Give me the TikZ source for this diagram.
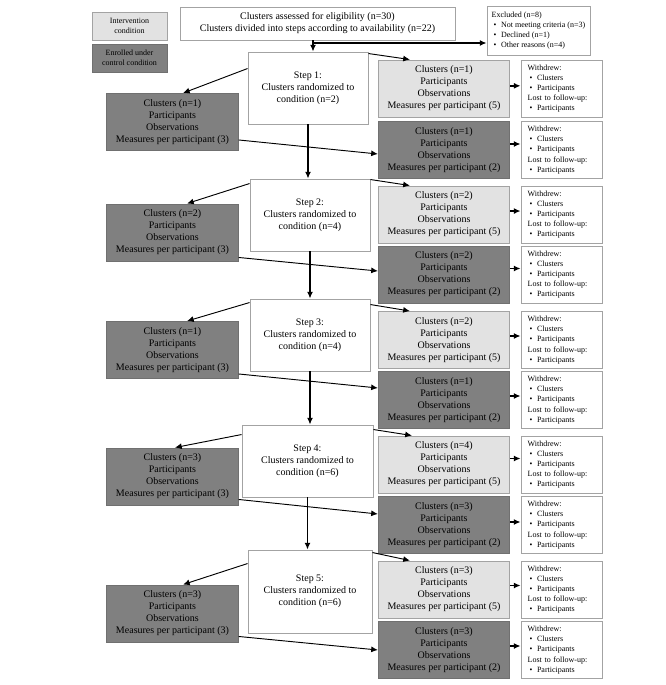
\documentclass[tikz,border=0pt]{standalone}
\usepackage{fontspec}
\setmainfont{Liberation Serif}
\usetikzlibrary{arrows.meta}

\definecolor{intgray}{HTML}{E2E2E2}
\definecolor{ctlgray}{HTML}{808080}
\definecolor{edgegray}{HTML}{A3A3A3}
\definecolor{ctledge}{HTML}{707070}

\newcommand{\bul}[1]{\hspace*{1.5pt}\makebox[5.5pt][l]{\textbullet}#1}
\newcommand{\armtext}[2]{Clusters (n=#1)\\Participants\\Observations\\Measures per participant (#2)}
\newcommand{\steptext}[2]{Step #1:\\Clusters randomized to\\condition (n=#2)}
\newcommand{\withdrewtext}{Withdrew:\\\bul{Clusters}\\\bul{Participants}\\Lost to follow-up:\\\bul{Participants}}

\tikzset{
	box/.style={draw=edgegray, line width=0.7pt, fill=white, align=center, inner sep=0pt,
		font=\fontsize{7.5}{9}\selectfont},
	stepbox/.style={box, minimum width=90pt, minimum height=54pt},
	intbox/.style={box, fill=intgray, minimum width=98.5pt, minimum height=42.75pt},
	ctlbox/.style={box, fill=ctlgray, draw=ctledge, minimum width=98.5pt, minimum height=42.75pt},
	notebox/.style={box, align=left, inner xsep=5pt, font=\fontsize{6}{7.6}\selectfont},
	wdbox/.style={notebox, text width=50.75pt, minimum height=42.75pt},
	legbox/.style={box, minimum width=56.25pt, minimum height=21pt, font=\fontsize{6}{7.4}\selectfont},
	flow/.style={-{Latex[length=5pt,width=4.5pt]}, line width=1.2pt},
	branch/.style={-{Latex[length=5pt,width=4.5pt]}, line width=0.7pt},
}

\begin{document}
\begin{tikzpicture}[x=0.75pt,y=-0.75pt]
	\useasboundingbox (0,0) rectangle (666,685);
	% legend
	\node[legbox, fill=intgray] (legint) at (129.5,26) {Intervention\\condition};
	\node[legbox, fill=ctlgray, draw=ctledge] (legctl) at (129.5,58) {Enrolled under\\control condition};
	% enrolment
	\node[box, minimum width=206.25pt, minimum height=24.75pt] (assess) at (317.5,23.5)
		{Clusters assessed for eligibility (n=30)\\Clusters divided into steps according to availability (n=22)};
	\node[notebox, inner xsep=3pt, minimum width=77.25pt, minimum height=36.75pt] (excl) at (538.5,30.5)
		{Excluded (n=8)\\\bul{Not meeting criteria (n=3)}\\\bul{Declined (n=1)}\\\bul{Other reasons (n=4)}};
	% steps
	\node[stepbox] (s1) at (308,88) {\steptext{1}{2}};
	\node[stepbox] (s2) at (310,215) {\steptext{2}{4}};
	\node[stepbox] (s3) at (310,335) {\steptext{3}{4}};
	\node[stepbox, minimum width=98.25pt] (s4) at (307.5,461) {\steptext{4}{6}};
	\node[stepbox, minimum width=93pt, minimum height=62.25pt] (s5) at (310,591.5) {\steptext{5}{6}};
	% control arm before crossing over
	\node[ctlbox] (w1) at (172.5,122) {\armtext{1}{3}};
	\node[ctlbox] (w2) at (172.5,232.5) {\armtext{2}{3}};
	\node[ctlbox] (w3) at (172.5,350) {\armtext{1}{3}};
	\node[ctlbox] (w4) at (172.5,476.5) {\armtext{3}{3}};
	\node[ctlbox] (w5) at (172.5,613.5) {\armtext{3}{3}};
	% right column
	\node[intbox] (ri1) at (444,88.5) {\armtext{1}{5}};
	\node[ctlbox] (rc1) at (444,150) {\armtext{1}{2}};
	\node[intbox] (ri2) at (444,214.5) {\armtext{2}{5}};
	\node[ctlbox] (rc2) at (444,274.5) {\armtext{2}{2}};
	\node[intbox] (ri3) at (444,340) {\armtext{2}{5}};
	\node[ctlbox] (rc3) at (444,400) {\armtext{1}{2}};
	\node[intbox] (ri4) at (444,464.5) {\armtext{4}{5}};
	\node[ctlbox] (rc4) at (444,525) {\armtext{3}{2}};
	\node[intbox] (ri5) at (444,589.5) {\armtext{3}{5}};
	\node[ctlbox] (rc5) at (444,650) {\armtext{3}{2}};
	% withdrawals
	\node[wdbox] (wi1) at (561.5,88.5) {\withdrewtext};
	\node[wdbox] (wc1) at (561.5,150) {\withdrewtext};
	\node[wdbox] (wi2) at (561.5,214.5) {\withdrewtext};
	\node[wdbox] (wc2) at (561.5,274.5) {\withdrewtext};
	\node[wdbox] (wi3) at (561.5,340) {\withdrewtext};
	\node[wdbox] (wc3) at (561.5,400) {\withdrewtext};
	\node[wdbox] (wi4) at (561.5,464.5) {\withdrewtext};
	\node[wdbox] (wc4) at (561.5,525) {\withdrewtext};
	\node[wdbox] (wi5) at (561.5,589.5) {\withdrewtext};
	\node[wdbox] (wc5) at (561.5,650) {\withdrewtext};

	% main flow
	\coordinate (split) at (313,43);
	\draw[flow] (split |- assess.south) -- (split |- s1.north);
	\draw[flow, line width=1pt] (split) -- (split -| excl.west);
	\draw[flow] (s1.south) -- (s1.south |- s2.north);
	\draw[flow] (s2.south) -- (s2.south |- s3.north);
	\draw[flow] (s3.south) -- (s3.south |- s4.north);
	\draw[flow] (s4.south) -- (s4.south |- s5.north);
	% to control arm
	\draw[branch] ([yshift=-12.75pt]s1.north west) -- ([xshift=7.9pt]w1.north);
	\draw[branch] ([yshift=-3.75pt]s2.north west) -- ([xshift=10.9pt]w2.north);
	\draw[branch] ([yshift=-3pt]s3.north west) -- ([xshift=10.9pt]w3.north);
	\draw[branch] ([yshift=-7.5pt]s4.north west) -- ([xshift=1.9pt]w4.north);
	\draw[branch] ([yshift=-10.5pt]s5.north west) -- ([xshift=7.9pt]w5.north);
	% to intervention
	\draw[branch] ([yshift=-1.5pt]s1.north east) -- ([xshift=24pt]ri1.north west);
	\draw[branch] ([yshift=-0.75pt]s2.north east) -- ([xshift=24pt]ri2.north west);
	\draw[branch] ([yshift=-4.5pt]s3.north east) -- ([xshift=24pt]ri3.north west);
	\draw[branch] ([yshift=-3.75pt]s4.north east) -- ([xshift=25.5pt]ri4.north west);
	\draw[branch] ([yshift=-2.25pt]s5.north east) -- ([xshift=24pt]ri5.north west);
	% control arm stays in control
	\draw[branch] ([yshift=8.25pt]w1.south east) -- ([yshift=-3pt]rc1.west);
	\draw[branch] ([yshift=3pt]w2.south east) -- ([yshift=2.6pt]rc2.west);
	\draw[branch] ([yshift=3.75pt]w3.south east) -- ([yshift=9pt]rc3.west);
	\draw[branch] ([yshift=4.5pt]w4.south east) -- ([yshift=8.25pt]rc4.west);
	\draw[branch] ([yshift=4.5pt]w5.south east) -- (rc5.west);
	% withdrawals
	\draw[flow] ([yshift=2pt]ri1.east) -- ([yshift=2pt]wi1.west);
	\draw[flow] ([yshift=4.5pt]rc1.east) -- ([yshift=4.5pt]wc1.west);
	\draw[flow] ([yshift=2.6pt]ri2.east) -- ([yshift=2.6pt]wi2.west);
	\draw[flow] ([yshift=4.5pt]rc2.east) -- ([yshift=4.5pt]wc2.west);
	\draw[flow] ([yshift=3pt]ri3.east) -- ([yshift=3pt]wi3.west);
	\draw[flow] ([yshift=3pt]rc3.east) -- ([yshift=3pt]wc3.west);
	\draw[flow] ([yshift=4.5pt]ri4.east) -- ([yshift=4.5pt]wi4.west);
	\draw[flow] ([yshift=2.25pt]rc4.east) -- ([yshift=2.25pt]wc4.west);
	\draw[flow] ([yshift=3pt]ri5.east) -- ([yshift=3pt]wi5.west);
	\draw[flow] ([yshift=3pt]rc5.east) -- ([yshift=3pt]wc5.west);
\end{tikzpicture}
\end{document}
